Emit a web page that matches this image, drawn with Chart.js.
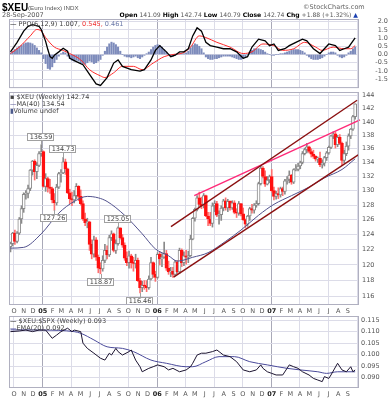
<!DOCTYPE html>
<html>
<head>
<meta charset="utf-8">
<script src="https://cdn.jsdelivr.net/npm/chart.js@4.4.0/dist/chart.umd.min.js"></script>
<style>
  body { margin: 0; background: #fff; width: 388px; height: 400px; position: relative; overflow: hidden; font-family: 'DejaVu Sans', sans-serif; }
  canvas { position: absolute; left: 0; }
  .t { position: absolute; white-space: nowrap; font-size: 6.5px; line-height: 1; color: #555; z-index: 5; }
  .t b { color: #000; }
</style>
</head>
<body>
<canvas id="ppo" width="388" height="79" style="top:12px"></canvas>
<canvas id="price" width="388" height="229" style="top:85px"></canvas>
<canvas id="ratio" width="388" height="91" style="top:309px"></canvas>

<div class="t" style="left:2px;top:2px;font:bold 10px 'Liberation Sans';color:#000">$XEU</div>
<div class="t" style="left:28px;top:4px;font:6.2px 'Liberation Sans'">(Euro Index) INDX</div>
<div class="t" style="left:303px;top:4px;color:#666">©StockCharts.com</div>
<div class="t" style="left:2px;top:12px">28-Sep-2007</div>
<div class="t" style="right:30px;top:12px;font-size:6.1px"><b>Open</b> 141.09 <b>High</b> 142.74 <b>Low</b> 140.79 <b>Close</b> 142.74 <b>Chg</b> +1.88 (+1.32%) <span style="color:#1a3fb0">▲</span></div>

<div class="t" style="left:10px;top:21px;color:#444"><span style="color:#000">—</span> PPO(6,12,9) 1.007, <span style="color:#f03030">0.545,</span> <span style="color:#6a78a8">0.461</span></div>

<div class="t" style="left:10px;top:94px;color:#444">▪ $XEU (Weekly) 142.74</div>
<div class="t" style="left:10px;top:101px;color:#444"><span style="color:#4c4c8c">—</span>MA(40) 134.54</div>
<div class="t" style="left:10px;top:108px;color:#444"><span style="color:#4c5a8c">▮</span>Volume undef</div>

<div class="t" style="left:10px;top:318px;color:#444"><span style="color:#000">—</span> $XEU:$SPX (Weekly) 0.093</div>
<div class="t" style="left:10px;top:325px;color:#444"><span style="color:#4a4a9a">—</span>EMA(20) 0.092</div>

<script>
// weekly bars, one per week starting the week of 20-Sep-2004
const opens = [
  122.4,122.8,124.2,123.1,124.2,126.1,127.5,129.5,129.6,130.3,132.9,134.2,132.7,133.6,135.3,
  135.6,130.6,131.7,130.5,130.3,128.7,128.3,130.5,132.4,132.5,134.1,133.1,129.7,128.9,128.7,
  129.3,130.6,129.2,128.2,126.1,125.6,125.7,122.7,121.4,123.3,121.0,119.6,119.5,120.6,121.9,
  121.3,123.6,124.1,121.9,122.8,124.9,123.6,122.6,120.9,120.3,121.2,120.3,120.2,120.6,118.0,
  117.1,117.4,117.3,117.1,118.2,120.3,118.8,118.4,121.4,120.8,121.0,121.5,119.6,119.1,119.2,
  118.8,120.4,119.1,121.9,120.3,121.2,121.0,121.2,123.4,126.2,127.4,129.0,128.1,127.9,129.3,
  126.5,126.1,125.5,127.9,128.2,126.6,126.7,127.6,128.6,127.6,128.5,127.6,128.3,127.0,126.9,
  128.2,126.8,126.0,125.4,126.5,127.5,127.3,128.0,128.2,131.0,133.2,132.0,130.9,131.5,132.0,
  130.0,129.2,129.6,129.4,130.3,129.9,131.4,131.6,132.2,131.2,133.0,133.0,133.5,134.0,135.3,
  135.9,136.3,135.6,135.2,134.9,134.5,134.6,133.7,133.9,134.7,135.4,136.2,137.9,138.2,136.6,
  137.7,136.8,134.3,135.3,136.4,137.9,138.9,140.8
];
const highs = [
  123.0,124.3,124.6,124.4,126.3,127.9,129.7,130.0,130.8,133.0,134.3,134.4,134.0,135.6,136.59,
  135.7,132.4,131.9,131.6,130.5,129.6,130.9,132.6,133.0,134.73,134.5,133.2,130.2,129.8,130.0,
  131.0,130.7,130.1,128.6,126.9,126.2,125.8,123.3,123.8,123.6,121.3,120.3,121.2,122.7,122.5,
  123.9,124.5,124.2,123.3,125.05,124.9,124.0,122.9,121.7,121.8,121.4,121.0,121.4,120.9,118.3,
  117.9,118.0,118.0,118.6,121.0,120.4,119.2,121.6,121.7,121.5,123.0,121.9,120.5,119.7,119.7,
  120.6,120.6,122.2,122.1,121.7,121.9,121.8,123.9,126.3,127.6,129.3,129.8,129.1,129.6,129.4,
  127.0,127.0,128.3,128.6,128.5,127.2,127.9,128.8,129.0,128.8,128.6,128.6,128.6,127.5,128.5,
  128.2,127.6,126.1,126.6,127.7,128.1,128.2,128.6,131.2,133.6,133.4,132.8,132.0,132.2,133.0,
  130.5,129.9,130.4,130.5,130.5,131.6,132.0,132.8,132.3,133.1,133.7,133.9,134.2,135.6,136.1,
  136.8,136.4,136.0,135.8,135.0,134.8,135.5,134.4,134.9,135.6,136.4,138.0,138.5,138.5,138.0,
  138.1,137.0,135.8,137.0,138.2,139.0,141.0,142.74
];
const lows = [
  121.7,122.5,122.7,122.9,124.0,125.5,127.0,128.8,129.0,130.0,132.2,131.5,131.7,133.4,134.9,
  130.5,129.9,129.8,129.6,128.3,127.26,128.0,130.3,131.2,132.4,132.3,129.6,128.2,127.9,128.3,
  128.9,128.6,128.0,125.9,125.2,124.9,121.9,120.8,121.0,120.6,119.0,118.87,119.2,120.3,120.8,
  121.1,123.2,121.7,121.5,122.6,123.4,122.3,120.6,119.9,119.6,119.6,119.2,119.6,117.9,116.46,
  116.6,116.9,116.6,116.9,118.1,118.4,117.9,118.3,120.0,119.8,120.9,119.3,118.8,118.5,118.4,
  118.6,118.8,118.9,119.8,119.9,120.1,120.3,121.1,123.3,125.8,127.2,127.7,127.5,127.6,126.4,
  125.2,125.2,125.0,127.1,126.4,125.4,125.9,127.2,127.3,127.1,127.3,127.4,126.8,126.3,126.6,
  126.5,125.9,124.9,125.1,125.9,126.9,126.9,127.7,128.0,130.8,131.8,130.6,130.8,131.1,129.8,
  128.7,128.8,128.9,129.1,129.3,129.5,130.9,131.1,130.9,131.0,132.8,132.8,133.1,133.8,135.1,
  135.4,135.4,134.8,134.6,134.2,134.0,133.4,133.2,133.5,134.3,135.2,136.0,137.5,136.1,136.3,
  136.6,133.6,133.9,135.0,135.8,137.5,138.7,140.4
];
const closes = [
  122.8,124.2,123.1,124.2,126.1,127.5,129.5,129.6,130.3,132.9,134.2,132.7,133.6,135.3,135.6,
  130.6,131.7,130.5,130.3,128.7,128.3,130.5,132.4,132.5,134.1,133.1,129.7,128.9,128.7,129.3,
  130.6,129.2,128.2,126.1,125.6,125.7,122.7,121.4,123.3,121.0,119.6,119.5,120.6,121.9,121.3,
  123.6,124.1,121.9,122.8,124.9,123.6,122.6,120.9,120.3,121.2,120.3,120.2,120.6,118.0,117.1,
  117.4,117.3,117.1,118.2,120.3,118.8,118.4,121.4,120.8,121.0,121.5,119.6,119.1,119.2,118.8,
  120.4,119.1,121.9,120.3,121.2,121.0,121.2,123.4,126.2,127.4,129.0,128.1,127.9,129.3,126.5,
  126.1,125.5,127.9,128.2,126.6,126.7,127.6,128.6,127.6,128.5,127.6,128.3,127.0,126.9,128.2,
  126.8,126.0,125.4,126.5,127.5,127.3,128.0,128.2,131.0,133.2,132.0,130.9,131.5,132.0,130.0,
  129.2,129.6,129.4,130.3,129.9,131.4,131.6,132.2,131.2,133.0,133.0,133.5,134.0,135.3,135.9,
  136.3,135.6,135.2,134.9,134.5,134.6,133.7,133.9,134.7,135.4,136.2,137.9,138.2,136.6,137.7,
  136.8,134.3,135.3,136.4,137.9,138.9,140.8,142.74
];

// MA(40) (week index, value)
const maWeeks  = [0, 6, 14, 22, 29, 35, 40, 44, 52, 60, 66, 72, 76, 83, 90, 98, 105, 113, 120, 128, 136, 143, 151, 157];
const maValues = [122.2, 122.3, 124.1, 126.9, 128.5, 129.2, 129.0, 128.5, 126.6, 124.1, 122.1, 121.2, 120.5, 121.0, 121.6, 123.1, 124.6, 126.6, 128.1, 129.3, 130.5, 131.8, 133.0, 134.54];

// trend lines drawn on the chart (week index, value)
const upperChannelWeeks = [73.1, 157.9], upperChannelValues = [125.07, 143.3];
const lowerChannelWeeks = [74.3, 158.4], lowerChannelValues = [118.45, 135.1];
const resistWeeks = [83.7, 159.2], resistValues = [129.3, 140.3];

// price labels
const noteWeeks  = [14, 24, 20, 41, 49, 59];
const noteValues = [136.59, 134.73, 127.26, 118.87, 125.05, 116.46];
const noteAbove  = [true, true, false, false, true, false];

// PPO(6,12,9)
const ppoWeeks  = [0, 3, 6, 8, 10, 13, 14, 16, 17, 18, 19, 20, 22, 24, 26, 27, 30, 33, 36, 39, 41, 44, 47, 49, 51, 55, 59, 61, 64, 66, 68, 71, 73, 75, 77, 79, 81, 83, 85, 87, 89, 91, 94, 97, 100, 103, 106, 108, 110, 113, 116, 118, 120, 122, 125, 127, 130, 133, 135, 138, 141, 143, 145, 148, 150, 152, 154, 157];
const ppoValues = [0.16, 0.74, 1.42, 1.71, 1.81, 1.71, 1.52, 0.8, 0.3, -0.13, -0.23, -0.04, 0.16, 0.38, 0.2, -0.23, -0.43, -0.62, -1.21, -1.79, -1.88, -1.40, -0.52, -0.33, -0.72, -0.92, -1.01, -0.92, -0.33, 0.25, 0.54, 0.16, -0.13, -0.04, 0.16, 0.16, 0.35, 1.13, 1.62, 1.42, 0.74, 0.54, 0.45, 0.35, 0.35, 0.16, -0.23, -0.13, 0.45, 0.93, 0.83, 0.54, 0.64, 0.25, 0.35, 0.54, 0.74, 0.93, 0.83, 0.35, 0.06, 0.35, 0.64, 0.54, 0.25, 0.35, 0.45, 1.007];
const signalWeeks  = [0, 4, 9, 12, 14, 16, 20, 24, 27, 32, 36, 41, 43, 47, 51, 56, 60, 65, 70, 74, 79, 82, 86, 89, 94, 100, 106, 110, 115, 120, 124, 129, 134, 139, 142, 147, 152, 155, 157];
const signalValues = [0.06, 0.45, 1.13, 1.52, 1.42, 1.03, 0.45, 0.25, 0.06, -0.33, -0.92, -1.30, -1.40, -1.11, -0.72, -0.72, -0.92, -0.52, -0.13, 0.0, 0.12, 0.45, 1.13, 1.03, 0.74, 0.45, 0.06, 0.16, 0.64, 0.54, 0.25, 0.35, 0.74, 0.45, 0.25, 0.45, 0.35, 0.35, 0.545];
const histValues = [
  0.10, 0.20, 0.30, 0.40, 0.50, 0.55, 0.65, 0.70, 0.72, 0.70, 0.65, 0.55, 0.40, 0.25,
  0.10, -0.25, -0.55, -0.85, -0.90, -0.75, -0.50, -0.30, -0.10, 0.05, 0.15, 0.10,
  -0.10, -0.25, -0.35, -0.40, -0.35, -0.40, -0.50, -0.55, -0.60, -0.50, -0.40, -0.45, -0.55, -0.50, -0.40, -0.30,
  -0.05, 0.20, 0.45, 0.65, 0.75, 0.70, 0.60, 0.45, 0.20,
  0.00, -0.10, -0.15, -0.15, -0.20, -0.15, -0.10, -0.20, -0.25, -0.15, -0.05, 0.05, 0.15,
  0.30, 0.45, 0.55, 0.60, 0.55, 0.45, 0.30, 0.15,
  0.00, -0.10, -0.10, -0.05, 0.00, 0.05, 0.05, 0.05,
  0.10, 0.20, 0.40, 0.55, 0.65, 0.60, 0.50,
  0.35, 0.10, -0.15, -0.25, -0.30, -0.30, -0.25, -0.25, -0.20, -0.15, -0.10, -0.10, -0.10, -0.10, -0.15, -0.20, -0.25, -0.30, -0.30, -0.25, -0.15,
  0.00, 0.15, 0.25, 0.35, 0.35, 0.35, 0.30, 0.25, 0.15, 0.05, 0.00,
  -0.05, -0.05, 0.00, 0.00, 0.05, 0.05, 0.10, 0.15, 0.20,
  0.25, 0.30, 0.30, 0.30, 0.25, 0.20, 0.10,
  -0.05, -0.15, -0.25, -0.30, -0.30, -0.30, -0.25, -0.20, -0.10, 0.00, 0.10,
  0.15, 0.15, 0.10, -0.05, -0.15, -0.20, -0.15, -0.05, 0.10, 0.20, 0.35, 0.46
];

// $XEU:$SPX ratio and its EMA(20)
const ratioWeeks  = [0, 4, 7, 10, 13, 16, 19, 21, 23, 26, 28, 29, 32, 33, 35, 38, 41, 43, 45, 46, 48, 49, 51, 54, 55, 57, 59, 60, 63, 65, 67, 70, 72, 74, 77, 80, 82, 83, 85, 87, 89, 92, 94, 95, 97, 100, 103, 106, 109, 112, 114, 115, 117, 119, 121, 124, 126, 127, 129, 131, 133, 136, 138, 140, 142, 143, 145, 146, 149, 151, 153, 155, 156, 157];
const ratioValues = [0.1100, 0.1103, 0.1107, 0.1100, 0.1107, 0.1107, 0.1071, 0.1085, 0.1100, 0.1115, 0.1100, 0.1107, 0.1100, 0.1050, 0.1027, 0.1006, 0.0984, 0.0976, 0.1006, 0.0998, 0.1027, 0.1013, 0.0998, 0.1013, 0.1020, 0.0976, 0.0947, 0.0925, 0.0940, 0.0947, 0.0955, 0.0947, 0.0933, 0.0940, 0.0925, 0.0933, 0.0947, 0.0962, 0.0998, 0.1006, 0.1006, 0.1013, 0.1020, 0.1013, 0.0998, 0.0991, 0.0969, 0.0933, 0.0925, 0.0933, 0.0955, 0.0940, 0.0925, 0.0918, 0.0911, 0.0911, 0.0940, 0.0955, 0.0947, 0.0940, 0.0925, 0.0911, 0.0896, 0.0889, 0.0882, 0.0904, 0.0896, 0.0911, 0.0962, 0.0933, 0.0925, 0.0947, 0.0925, 0.0933];
const emaWeeks  = [0, 15, 29, 32, 38, 44, 51, 56, 64, 71, 80, 83, 89, 95, 102, 109, 117, 126, 132, 140, 144, 149, 157];
const emaValues = [0.1108, 0.1107, 0.1100, 0.1093, 0.1064, 0.1034, 0.1027, 0.1013, 0.0976, 0.0962, 0.0947, 0.0947, 0.0969, 0.0991, 0.0991, 0.0969, 0.0955, 0.0940, 0.0933, 0.0925, 0.0918, 0.0925, 0.0925];

// axis ticks
const monthLabels = ['O','N','D','05','F','M','A','M','J','J','A','S','O','N','D','06','F','M','A','M','J','J','A','S','O','N','D','07','F','M','A','M','J','J','A','S',''];
const priceTicks = [116, 118, 120, 122, 124, 126, 128, 130, 132, 134, 136, 138, 140, 142, 144];
const ppoTicks = [-1.5, -1.0, -0.5, 0.0, 0.5, 1.0, 1.5, 2.0];
const ratioTicks = [0.090, 0.095, 0.100, 0.105, 0.110, 0.115];

// x positions are days from 1-Jan-2005
const DAY0 = Date.UTC(2005, 0, 1);
const toDay = (y, m, d) => (Date.UTC(y, m, d) - DAY0) / 86400000;
const FIRST_WEEK = toDay(2004, 8, 20);
const weekX = k => FIRST_WEEK + 7 * k;
const monthDays = monthLabels.map((_, m) => toDay(2004, 9 + m, 1));
const X_MIN = -107.8, X_MAX = 1008.3;

const pts = (ks, vs) => ks.map((k, i) => ({ x: weekX(k), y: vs[i] }));
const isYear = i => i % 12 === 3;

Chart.defaults.font.family = 'DejaVu Sans';
Chart.defaults.font.size = 6.5;
Chart.defaults.color = '#555';

function xAxis(showLabels, height, pad) {
  return {
    type: 'linear', min: X_MIN, max: X_MAX, offset: false,
    afterBuildTicks: s => { s.ticks = monthDays.map(v => ({ value: v })); },
    afterFit: s => { s.height = height; },
    grid: {
      offset: false, drawTicks: false,
      color: c => isYear(c.index) ? '#a9a9b8' : (c.index % 3 === 0 ? '#dcdce8' : 'rgba(0,0,0,0)')
    },
    border: { display: false },
    ticks: {
      display: showLabels, padding: pad, autoSkip: false, maxRotation: 0, minRotation: 0,
      color: c => isYear(c.index) ? '#222' : '#555',
      font: c => ({ family: 'DejaVu Sans', size: 6.5, weight: isYear(c.index) ? 'bold' : 'normal' }),
      callback: (v, i) => monthLabels[i]
    }
  };
}

function yAxis(type, min, max, tickValues, fmt, align, pad) {
  return {
    type, position: 'right', min, max, beginAtZero: false,
    afterBuildTicks: s => { s.ticks = tickValues.map(v => ({ value: v })); },
    afterFit: s => { s.width = 29; },
    grid: { drawTicks: false, color: '#dcdce8' },
    border: { display: false },
    ticks: { padding: pad, crossAlign: align, color: '#555', autoSkip: false, callback: fmt }
  };
}

const framePlugin = {
  id: 'frame',
  afterDraw(chart) {
    const { ctx, chartArea: a } = chart;
    ctx.save();
    ctx.strokeStyle = '#b0b0c0';
    ctx.lineWidth = 1;
    ctx.strokeRect(a.left + 0.5, a.top + 0.5, a.width - 1, a.height - 1);
    ctx.restore();
  }
};

const notesPlugin = {
  id: 'notes',
  afterDatasetsDraw(chart) {
    const { ctx, scales: { x, y } } = chart;
    ctx.save();
    ctx.font = '6.5px "DejaVu Sans"';
    ctx.textAlign = 'center';
    ctx.textBaseline = 'middle';
    ctx.lineWidth = 1;
    noteWeeks.forEach((k, i) => {
      const text = noteValues[i].toFixed(2);
      const px = Math.round(x.getPixelForValue(weekX(k)));
      const py = Math.round(y.getPixelForValue(noteValues[i]));
      const w = Math.round(ctx.measureText(text).width) + 4, h = 8;
      const top = noteAbove[i] ? py - 4 - h : py + 4;
      const left = px - Math.round(w / 2);
      ctx.strokeStyle = '#a0a0a0';
      ctx.beginPath();
      ctx.moveTo(px + 0.5, py);
      ctx.lineTo(px + 0.5, noteAbove[i] ? top + h : top);
      ctx.stroke();
      ctx.fillStyle = '#fff';
      ctx.fillRect(left, top, w, h);
      ctx.strokeRect(left + 0.5, top + 0.5, w - 1, h - 1);
      ctx.fillStyle = '#444';
      ctx.fillText(text, px, top + h / 2 + 0.5);
    });
    ctx.restore();
  }
};

const common = {
  responsive: false, animation: false, devicePixelRatio: 1, events: [],
  plugins: { legend: { display: false }, tooltip: { enabled: false } }
};

// PPO panel
new Chart(document.getElementById('ppo'), {
  type: 'bar',
  data: {
    datasets: [
      { type: 'line', data: pts(ppoWeeks, ppoValues), borderColor: '#000', borderWidth: 1.3, pointRadius: 0, tension: 0, order: 0 },
      { type: 'line', data: pts(signalWeeks, signalValues), borderColor: '#ff2a2a', borderWidth: 1, pointRadius: 0, cubicInterpolationMode: 'monotone', order: 1 },
      { type: 'bar', data: histValues.map((v, k) => ({ x: weekX(k), y: v })), backgroundColor: '#7d8bbb', barThickness: 1.4, grouped: false, order: 2 }
    ]
  },
  options: {
    ...common,
    layout: { padding: { left: 9, right: 0, top: 7, bottom: 0 } },
    scales: {
      x: xAxis(false, 0, 0),
      y: yAxis('linear', -2.041, 2.157, ppoTicks, v => v.toFixed(1), 'far', -1)
    }
  },
  plugins: [framePlugin]
});

// price panel
const upColor = (i) => closes[i] >= opens[i];
new Chart(document.getElementById('price'), {
  type: 'bar',
  data: {
    datasets: [
      { type: 'line', data: pts(upperChannelWeeks, upperChannelValues), borderColor: '#8b1010', borderWidth: 1.4, pointRadius: 0, order: 0, clip: false },
      { type: 'line', data: pts(lowerChannelWeeks, lowerChannelValues), borderColor: '#8b1010', borderWidth: 1.4, pointRadius: 0, order: 0, clip: false },
      { type: 'line', data: pts(resistWeeks, resistValues), borderColor: '#ff2a78', borderWidth: 1.4, pointRadius: 0, order: 0, clip: false },
      { type: 'line', data: pts(maWeeks, maValues), borderColor: '#50508c', borderWidth: 1, pointRadius: 0, cubicInterpolationMode: 'monotone', order: 1 },
      {
        type: 'bar', data: opens.map((o, k) => ({ x: weekX(k), y: [o, closes[k]] })),
        backgroundColor: c => upColor(c.dataIndex) ? '#ffffff' : '#ff1010',
        borderColor: c => upColor(c.dataIndex) ? '#8a8a8a' : '#ff1010',
        borderWidth: 1, borderSkipped: false, barThickness: 3, minBarLength: 1, grouped: false, order: 2
      },
      {
        type: 'bar', data: lows.map((l, k) => ({ x: weekX(k), y: [l, highs[k]] })),
        backgroundColor: c => upColor(c.dataIndex) ? '#8a8a8a' : '#ff7070',
        barThickness: 1, grouped: false, order: 3
      }
    ]
  },
  options: {
    ...common,
    layout: { padding: { left: 9, right: 0, top: 7, bottom: 0 } },
    scales: {
      x: xAxis(true, 9, 2),
      y: yAxis('logarithmic', 114.94, 144.575, priceTicks, v => String(v), 'near', 3)
    }
  },
  plugins: [framePlugin, notesPlugin]
});

// ratio panel
new Chart(document.getElementById('ratio'), {
  type: 'line',
  data: {
    datasets: [
      { data: pts(ratioWeeks, ratioValues), borderColor: '#1c1430', borderWidth: 1, pointRadius: 0, tension: 0 },
      { data: pts(emaWeeks, emaValues), borderColor: '#4a4a9a', borderWidth: 1, pointRadius: 0, cubicInterpolationMode: 'monotone' }
    ]
  },
  options: {
    ...common,
    layout: { padding: { left: 9, right: 0, top: 7, bottom: 0 } },
    scales: {
      x: xAxis(true, 12, 2.5),
      y: yAxis('linear', 0.08542, 0.11683, ratioTicks, v => v.toFixed(3), 'near', 2)
    }
  },
  plugins: [framePlugin]
});
</script>
</body>
</html>
